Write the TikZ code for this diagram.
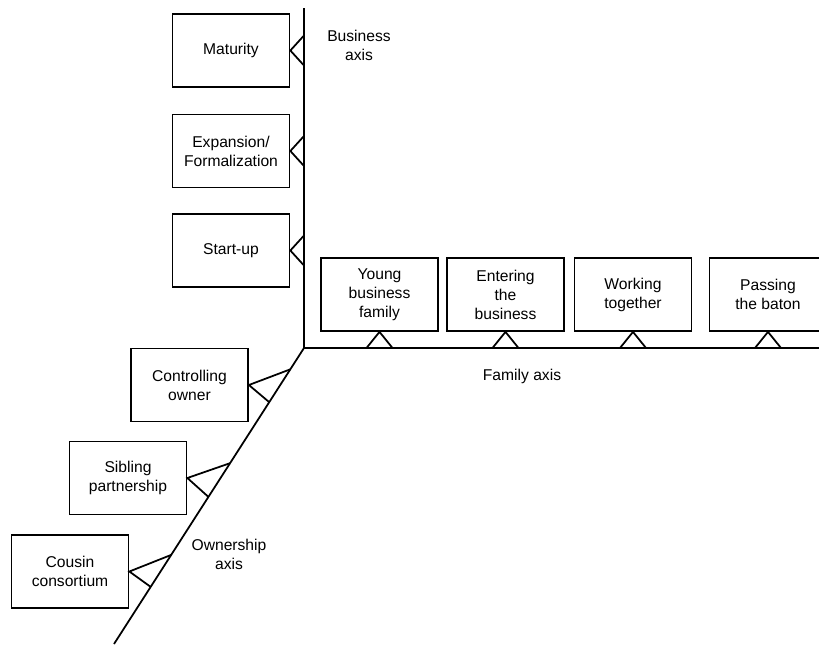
\documentclass[tikz,border=0pt]{standalone}
\usepackage{fontspec}
\setmainfont{Liberation Sans}
\usetikzlibrary{calc}

\begin{document}
\begin{tikzpicture}[x=0.02cm, y=-0.02cm, line width=1pt, font=\fontsize{8.9}{10.8}\selectfont]
    \tikzstyle{stage}=[draw=black, align=center, minimum width=2.34cm, minimum height=1.46cm, inner sep=1pt]
    \tikzstyle{axisname}=[align=center, inner sep=0pt]

    \clip (0, 0) rectangle (819, 646);

    % axes
    \coordinate (O)    at (304, 348);
    \coordinate (btop) at (304, 8);
    \coordinate (fend) at (830, 348);
    \coordinate (oend) at (114, 644);
    \draw (btop) -- (O) -- (fend);
    \draw (O) -- (oend);

    % business stages
    \node[stage] at (231, 50.5)  (mat)   {Maturity};
    \node[stage] at (231, 151)   (exp)   {Expansion/\\Formalization};
    \node[stage] at (231, 250.5) (start) {Start-up};

    % family stages
    \node[stage] at (379.5, 294.5) (young) {Young\\business\\family};
    \node[stage] at (505.5, 294.5) (enter) {Entering\\the\\business};
    \node[stage] at (633, 294.5)   (work)  {Working\\together};
    \node[stage] at (768, 294.5)   (pass)  {Passing\\the baton};

    % ownership stages
    \node[stage] at (189.5, 385) (ctrl) {Controlling\\owner};
    \node[stage] at (128, 478)   (sib)  {Sibling\\partnership};
    \node[stage] at (70, 571.5)  (cous) {Cousin\\consortium};

    % axis names
    \node[axisname] at (359, 45)  (bname) {Business\\axis};
    \node[axisname] at (522, 376) (fname) {Family axis};
    \node[axisname] at (229, 554) (oname) {Ownership\\axis};

    % links to the business axis
    \draw ($(mat.east -| O)+(0,-15)$) -- (mat.east) -- ($(mat.east -| O)+(0,15)$);
    \draw ($(exp.east -| O)+(0,-15)$) -- (exp.east) -- ($(exp.east -| O)+(0,15)$);
    \draw ($(start.east -| O)+(0,-15)$) -- (start.east) -- ($(start.east -| O)+(0,15)$);

    % links to the family axis
    \draw ($(young.south |- O)+(-13,0)$) -- (young.south) -- ($(young.south |- O)+(13,0)$);
    \draw ($(enter.south |- O)+(-13,0)$) -- (enter.south) -- ($(enter.south |- O)+(13,0)$);
    \draw ($(work.south |- O)+(-13,0)$) -- (work.south) -- ($(work.south |- O)+(13,0)$);
    \draw ($(pass.south |- O)+(-13,0)$) -- (pass.south) -- ($(pass.south |- O)+(13,0)$);

    % links to the ownership axis
    \draw ($(O)!0.072!(oend)$) -- (ctrl.east) -- ($(O)!0.183!(oend)$);
    \draw ($(O)!0.389!(oend)$) -- (sib.east) -- ($(O)!0.503!(oend)$);
    \draw ($(O)!0.699!(oend)$) -- (cous.east) -- ($(O)!0.807!(oend)$);
\end{tikzpicture}
\end{document}
